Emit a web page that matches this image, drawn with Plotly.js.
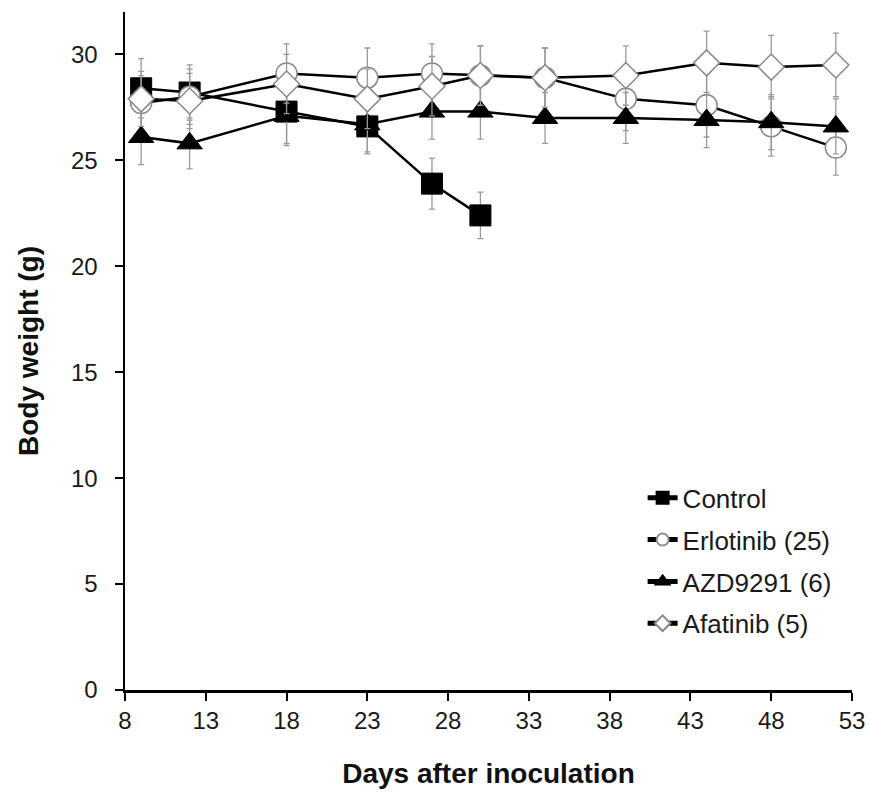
<!DOCTYPE html>
<html>
<head>
<meta charset="utf-8">
<script src="https://cdn.plot.ly/plotly-3.0.1.min.js"></script>
<style>html,body{margin:0;padding:0;background:#fff;}#chart{width:870px;height:793px;}</style>
</head>
<body>
<div id="chart"></div>
<script>
var seriesNames = ["Control", "Erlotinib (25)", "AZD9291 (6)", "Afatinib (5)"];
var daysControl = [9, 12, 18, 23, 27, 30];
var daysTreated = [9, 12, 18, 23, 27, 30, 34, 39, 44, 48, 52];

var controlWeight = [28.4, 28.2, 27.3, 26.6, 23.9, 22.4];
var controlErr    = [1.4, 1.3, 1.6, 1.3, 1.2, 1.1];

var erlotinibWeight = [27.7, 28.0, 29.1, 28.9, 29.1, 29.0, 28.9, 27.9, 27.6, 26.6, 25.6];
var erlotinibErr    = [1.3, 1.3, 1.4, 1.4, 1.4, 1.4, 1.4, 1.5, 1.5, 1.4, 1.3];

var azdWeight = [26.1, 25.8, 27.1, 26.7, 27.3, 27.3, 27.0, 27.0, 26.9, 26.8, 26.6];
var azdErr    = [1.3, 1.2, 1.3, 1.3, 1.3, 1.3, 1.2, 1.2, 1.3, 1.3, 1.3];

var afatinibWeight = [27.9, 27.8, 28.6, 27.9, 28.5, 29.0, 28.9, 29.0, 29.6, 29.4, 29.5];
var afatinibErr    = [1.3, 1.3, 1.4, 1.4, 1.4, 1.4, 1.4, 1.4, 1.5, 1.5, 1.5];

var xTicks = [8, 13, 18, 23, 28, 33, 38, 43, 48, 53];
var yTicks = [0, 5, 10, 15, 20, 25, 30];

var errStyle = function(arr){
  return {type: 'data', array: arr, visible: true, color: '#9a9a9a', thickness: 1.3, width: 3};
};

var traces = [
  {x: daysControl, y: controlWeight, name: seriesNames[0], mode: 'lines+markers', legendgroup: 'a',
   line: {color: '#000', width: 2.5},
   marker: {symbol: 'square', size: 21, color: '#000', line: {color: '#000', width: 1}},
   error_y: errStyle(controlErr)},
  {x: daysTreated, y: erlotinibWeight, name: seriesNames[1], mode: 'lines+markers', legendgroup: 'b',
   line: {color: '#000', width: 2.5},
   marker: {symbol: 'circle', size: 21, color: '#fff', line: {color: '#8a8a8a', width: 1.5}},
   error_y: errStyle(erlotinibErr)},
  {x: daysTreated, y: azdWeight, name: seriesNames[2], mode: 'lines+markers', legendgroup: 'c',
   line: {color: '#000', width: 2.5},
   marker: {symbol: 'triangle-up', size: 22, color: '#000', line: {color: '#000', width: 1}},
   error_y: errStyle(azdErr)},
  {x: daysTreated, y: afatinibWeight, name: seriesNames[3], mode: 'lines+markers', legendgroup: 'd',
   line: {color: '#000', width: 2.5},
   marker: {symbol: 'diamond', size: 20, color: '#fff', line: {color: '#8a8a8a', width: 1.5}},
   error_y: errStyle(afatinibErr)}
];

var layout = {
  width: 870, height: 793,
  margin: {l: 125, r: 18, t: 12, b: 103},
  paper_bgcolor: '#fff', plot_bgcolor: '#fff',
  font: {family: 'Liberation Sans, Arial, sans-serif', color: '#1a1a1a'},
  showlegend: true,
  legend: {
    x: 0.712, y: 0.318, xanchor: 'left', yanchor: 'top',
    font: {size: 26, color: '#1a1a1a'},
    traceorder: 'grouped', tracegroupgap: 5,
    itemsizing: 'constant', bgcolor: 'rgba(0,0,0,0)'
  },
  xaxis: {
    range: [8, 53], tickvals: xTicks, ticktext: xTicks.map(String),
    showgrid: false, zeroline: false, showline: true, linecolor: '#000', linewidth: 2.5,
    ticks: 'outside', ticklen: 8, tickwidth: 2, tickcolor: '#000',
    tickfont: {size: 24, color: '#1a1a1a'},
    title: {text: '<b>Days after inoculation</b>', font: {size: 28, color: '#111'}, standoff: 30}
  },
  yaxis: {
    range: [0, 32], tickvals: yTicks, ticktext: yTicks.map(String),
    showgrid: false, zeroline: false, showline: true, linecolor: '#000', linewidth: 2.5,
    ticks: 'outside', ticklen: 8, tickwidth: 2, tickcolor: '#000',
    tickfont: {size: 24, color: '#1a1a1a'}, ticklabelstandoff: 12,
    title: {text: '<b>Body weight (g)</b>', font: {size: 28, color: '#111'}, standoff: 24}
  }
};

Plotly.newPlot('chart', traces, layout, {displayModeBar: false, staticPlot: true});
</script>
</body>
</html>
